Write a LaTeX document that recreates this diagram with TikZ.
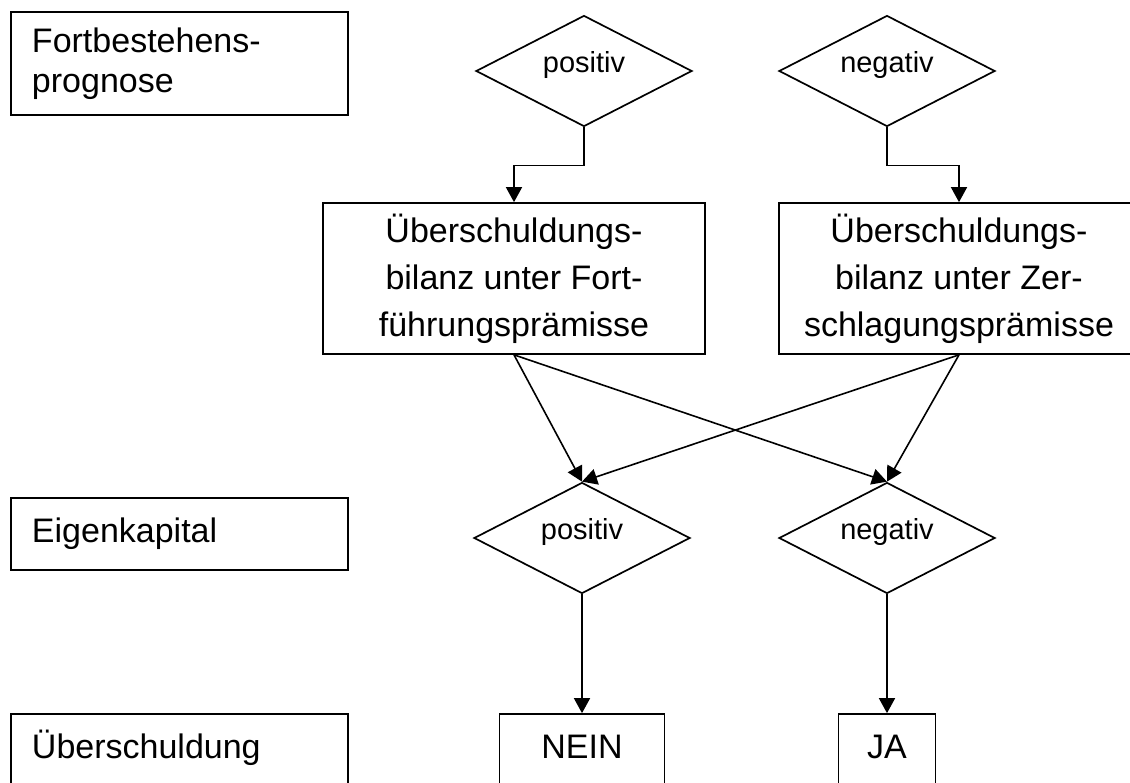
\documentclass[tikz,border=0pt]{standalone}
\usepackage{fontspec}
\setmainfont{Liberation Sans}
\usetikzlibrary{shapes.geometric,arrows.meta}

\tikzset{
	ebene/.style={draw, line width=0.85pt, minimum width=168.5pt, text width=147.5pt, inner xsep=10.5pt, align=left, font=\fontsize{17}{20}\selectfont},
	bilanz/.style={draw, line width=0.85pt, minimum height=75.5pt, align=center, font=\fontsize{17}{23.5}\selectfont},
	raute/.style={draw, line width=0.85pt, diamond, aspect=2, minimum width=108pt, minimum height=55.5pt, inner sep=0pt, text height=7.5pt, text depth=6.5pt, font=\fontsize{14.5}{17}\selectfont},
	ergebnis/.style={draw, line width=0.85pt, inner ysep=0pt, text height=22pt, text depth=21pt, font=\fontsize{17}{20}\selectfont},
	pfeil/.style={line width=0.8pt, -{Triangle[length=7.5pt,width=8pt]}}
}

\begin{document}
\begin{tikzpicture}[x=0.5pt, y=-0.5pt]
			%%%%% START %%%%%
			\useasboundingbox (0,0) rectangle (1130,782);
			
			% linke Spalte
			\node[ebene, minimum height=51.5pt] (prognose) at (179.5,63.5) {Fortbestehens-\\prognose};
			\node[ebene, minimum height=36pt] (eigenkapital) at (179.5,534) {Eigenkapital};
			\node[ebene, inner ysep=0pt, text height=22pt, text depth=21pt] (ueberschuldung) at (179.5,757) {Überschuldung};
			
			% Prognose
			\node[raute] (progpos) at (584,71) {positiv};
			\node[raute] (progneg) at (887,71) {negativ};
			
			% Bilanzen
			\node[bilanz, minimum width=191pt] (fortfuehrung) at (514,278.5) {Überschuldungs-\\bilanz unter Fort-\\führungsprämisse};
			\node[bilanz, minimum width=180pt] (zerschlagung) at (959,278.5) {Überschuldungs-\\bilanz unter Zer-\\schlagungsprämisse};
			
			\draw[pfeil] (progpos.south) -- ++(0,38) -| (fortfuehrung.north);
			\draw[pfeil] (progneg.south) -- ++(0,38) -| (zerschlagung.north);
			
			% Eigenkapital
			\node[raute] (ekpos) at (582,538) {positiv};
			\node[raute] (ekneg) at (887,538) {negativ};
			
			\draw[pfeil] (fortfuehrung.south) -- (ekpos.north);
			\draw[pfeil] (fortfuehrung.south) -- (ekneg.north);
			\draw[pfeil] (zerschlagung.south) -- (ekpos.north);
			\draw[pfeil] (zerschlagung.south) -- (ekneg.north);
			
			% Ergebnis
			\node[ergebnis, minimum width=82.5pt] (nein) at (582,757) {NEIN};
			\node[ergebnis, minimum width=48.5pt] (ja) at (887,757) {JA};
			
			\draw[pfeil] (ekpos.south) -- (nein.north);
			\draw[pfeil] (ekneg.south) -- (ja.north);
			%%%%% END %%%%%
\end{tikzpicture}
\end{document}
